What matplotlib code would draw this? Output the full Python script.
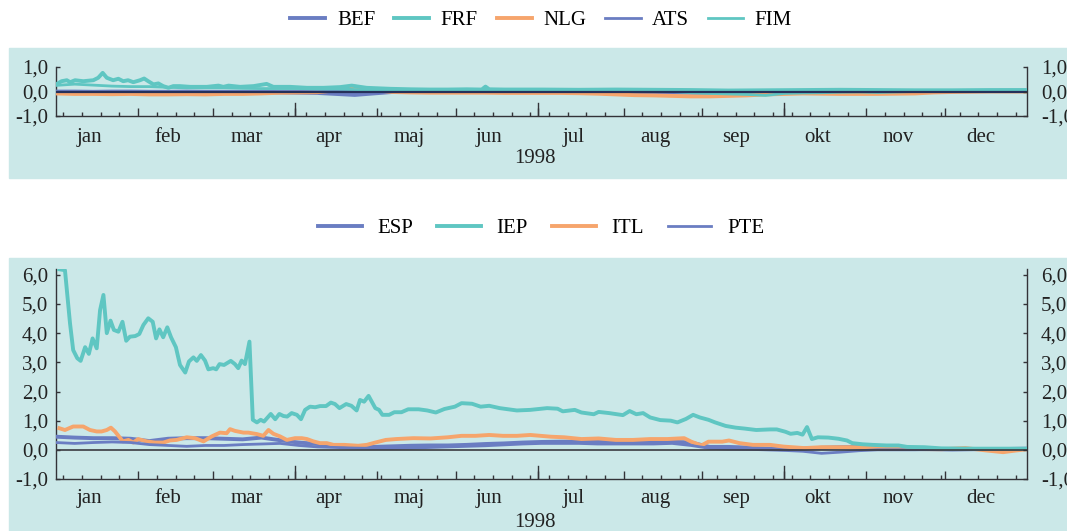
import numpy as np
import matplotlib
matplotlib.use("Agg")
import matplotlib.pyplot as plt
from matplotlib.patches import Rectangle
from matplotlib.ticker import FixedLocator, FuncFormatter

plt.rcParams['font.family'] = ['Liberation Serif', 'DejaVu Serif']
plt.rcParams['font.size'] = 15
plt.rcParams['axes.unicode_minus'] = False

W, H = 1067, 531
BG = '#cbe8e8'
BLUE = '#6a7dc2'
TEAL = '#5fc6c2'
ORANGE = '#f6a56c'
DARK = '#333338'

# handelsdag nr. i 1998 (0 = 1. jan), ugentlige observationer
uke = list(range(0, 261, 5))

maaneder = ['jan', 'feb', 'mar', 'apr', 'maj', 'jun',
            'jul', 'aug', 'sep', 'okt', 'nov', 'dec']

# --- øverste panel ---
frf_x = [0, 1.5, 2.9, 3.8, 5.1, 7.3, 10, 11.3, 12.5, 13.6, 15.3, 16.7, 18, 19.3, 20.7,
         22.5, 23.6, 24.7, 26.1, 27.4, 28.7, 30.1, 31.4, 33.2, 35.9, 40.4, 43.5, 44.8,
         46.2, 49.3, 52.9, 56.4, 58.2, 62.7, 67.2, 71.6, 76.1, 79.2, 81.4, 83.2, 89.5,
         95, 100, 105, 110, 114, 115, 116, 120, 130, 140, 150, 160, 170, 180, 190, 200,
         210, 220, 230, 240, 250, 260]
frf = [0.29, 0.42, 0.46, 0.38, 0.46, 0.42, 0.46, 0.56, 0.76, 0.56, 0.46, 0.52, 0.42, 0.46,
       0.38, 0.46, 0.53, 0.42, 0.29, 0.33, 0.22, 0.15, 0.22, 0.22, 0.19, 0.19, 0.24, 0.19,
       0.24, 0.19, 0.22, 0.31, 0.19, 0.19, 0.15, 0.15, 0.18, 0.24, 0.19, 0.15, 0.11, 0.09,
       0.08, 0.08, 0.09, 0.08, 0.2, 0.09, 0.08, 0.08, 0.07, 0.08, 0.07, 0.06, 0.04, 0.05,
       0.06, 0.07, 0.06, 0.05, 0.05, 0.06, 0.06]
fim = [0.25, 0.30, 0.26, 0.22, 0.20, 0.20, 0.17, 0.15, 0.15, 0.15, 0.13, 0.12, 0.12, 0.12,
       0.10, 0.10, 0.08, 0.06, 0.05, 0.05, 0.05, 0.05, 0.04, 0.05, 0.05, 0.04, 0.05, 0.05,
       0.04, 0.04, 0.04, 0.03, 0.03, 0.00, -0.05, -0.08, -0.10, -0.12, -0.16, -0.08, -0.06,
       -0.05, -0.03, -0.02, -0.04, -0.02, 0.00, 0.02, 0.02, 0.03, 0.04, 0.05, 0.05]
nlg = [-0.08, -0.10, -0.10, -0.11, -0.10, -0.12, -0.12, -0.11, -0.12, -0.10, -0.10, -0.08,
       -0.05, -0.04, -0.03, 0.05, 0.20, 0.06, -0.02, -0.04, -0.05, -0.05, -0.05, -0.05,
       -0.06, -0.06, -0.06, -0.06, -0.07, -0.09, -0.12, -0.15, -0.16, -0.18, -0.20, -0.20,
       -0.18, -0.16, -0.12, -0.10, -0.08, -0.09, -0.10, -0.10, -0.10, -0.09, -0.08, -0.04,
       -0.02, -0.01, 0.00, 0.00, 0.00]
bef = [-0.03, -0.02, -0.03, -0.03, -0.04, -0.04, -0.03, -0.03, -0.02, -0.03, -0.03, -0.04,
       -0.04, -0.05, -0.06, -0.10, -0.14, -0.08, -0.02, -0.01, -0.01, 0.00, 0.00, -0.01,
       0.00, 0.00, 0.01, 0.00, 0.00, -0.01, -0.02, -0.02, -0.03, -0.04, -0.05, -0.06, -0.04,
       -0.03, -0.02, -0.01, 0.00, 0.00, -0.01, 0.00, 0.00, 0.01, 0.01, 0.02, 0.02, 0.02,
       0.02, 0.02, 0.02]
ats = [0.02, 0.02, 0.01, 0.02, 0.02, 0.01, 0.01, 0.02, 0.01, 0.01, 0.01, 0.01, 0.00, 0.00,
       0.00, 0.01, 0.00, 0.00, 0.01, 0.01, 0.01, 0.01, 0.01, 0.01, 0.01, 0.01, 0.01, 0.01,
       0.01, 0.01, 0.01, 0.01, 0.00, 0.00, 0.00, 0.00, 0.00, 0.00, 0.00, 0.00, 0.00, 0.00,
       0.00, 0.00, 0.00, 0.00, 0.01, 0.01, 0.01, 0.01, 0.01, 0.01, 0.01]

# --- nederste panel ---
iep_x = [0.9, 2.4, 3.75, 4.6, 5.7, 6.6, 7.8, 8.8, 9.8, 10.9, 11.8, 12.7, 13.6, 14.6, 15.5,
         16.7, 17.8, 18.8, 19.8, 21.2, 22.3, 23.4, 24.7, 25.9, 26.8, 27.7, 28.7, 29.8, 30.8,
         32.1, 33.2, 34.6, 35.6, 36.8, 37.7, 38.8, 39.9, 40.8, 42.1, 42.9, 43.8, 45, 46.8,
         47.9, 48.8, 49.7, 50.6, 51.8, 52.7, 53.8, 54.8, 55.7, 57.5, 58.7, 59.8, 60.9, 61.9,
         63.1, 64.5, 65.6, 66.7, 68, 69.4, 70.7, 72.3, 73.6, 74.7, 75.9, 77.7, 79.1, 80.5,
         81.4, 82.5, 83.7, 85.5, 86.5, 87.4, 89.2, 90.6, 92.5, 94.3, 97.1, 99.4, 101.7, 104,
         106.8, 108.6, 111.4, 113.7, 116, 118.8, 123.4, 127, 131.5, 134.3, 135.7, 138.9,
         140.7, 144, 145.3, 148.1, 151.8, 153.6, 155.4, 157.2, 159.1, 161.8, 164.6, 166.4,
         168.7, 170.6, 172.4, 174.7, 176.5, 179.3, 182, 184.3, 187.5, 191.2, 193, 195.3,
         196.7, 198.5, 199.9, 201.1, 202.4, 204, 206.8, 209.5, 211.8, 213.2, 216, 218.7,
         222.4, 225.6, 227.9, 232.5, 237.1, 246.2, 260]
iep = [6.19, 6.16, 4.34, 3.42, 3.14, 3.05, 3.52, 3.29, 3.82, 3.48, 4.79, 5.31, 4.0, 4.43,
       4.11, 4.05, 4.39, 3.74, 3.88, 3.9, 3.97, 4.28, 4.51, 4.39, 3.82, 4.13, 3.86, 4.2, 3.86,
       3.52, 2.91, 2.65, 3.03, 3.17, 3.05, 3.25, 3.06, 2.76, 2.8, 2.76, 2.94, 2.91, 3.05,
       2.94, 2.8, 3.06, 2.94, 3.71, 1.03, 0.94, 1.03, 0.97, 1.23, 1.05, 1.23, 1.16, 1.14,
       1.26, 1.2, 1.05, 1.37, 1.48, 1.46, 1.5, 1.5, 1.62, 1.57, 1.43, 1.57, 1.51, 1.35,
       1.71, 1.65, 1.85, 1.43, 1.37, 1.2, 1.2, 1.29, 1.29, 1.39, 1.39, 1.35, 1.28, 1.40,
       1.48, 1.6, 1.58, 1.48, 1.51, 1.43, 1.35, 1.37, 1.43, 1.41, 1.32, 1.37, 1.28, 1.22,
       1.30, 1.26, 1.19, 1.33, 1.22, 1.26, 1.11, 1.02, 1.0, 0.94, 1.06, 1.2, 1.11, 1.03,
       0.94, 0.82, 0.76, 0.73, 0.68, 0.70, 0.70, 0.62, 0.55, 0.58, 0.52, 0.78, 0.37, 0.43,
       0.42, 0.38, 0.32, 0.23, 0.19, 0.17, 0.15, 0.15, 0.1, 0.09, 0.05, 0.04, 0.04]
itl_x = [0.9, 2.4, 4.6, 7.3, 9.1, 10.9, 12.2, 13.6, 14.7, 15.8, 17.9, 19.4, 20.7, 22, 24.3,
         26.5, 28.7, 30.5, 32.3, 35, 37.2, 39.5, 41.7, 43.9, 45.7, 46.6, 47.9, 50.2, 51.5,
         53.8, 55.5, 56.9, 58.2, 60, 61.8, 64, 65.8, 67.2, 68.9, 70.7, 72.5, 74.3, 77.2,
         80.9, 83.2, 85.5, 88.3, 91.1, 95.7, 100.3, 104.9, 108.6, 112.3, 116, 119.7, 123.4,
         127, 132.5, 136.1, 140.7, 145.3, 149.9, 154.5, 159.1, 163.7, 168.2, 170.1, 172.8,
         174.7, 178.4, 180.2, 183, 186.6, 191.2, 194.9, 200.4, 204.9, 209.5, 214, 218.7,
         223.3, 227.9, 237.1, 243.5, 249, 253.6, 257.2, 260]
itl = [0.74, 0.68, 0.80, 0.80, 0.68, 0.63, 0.63, 0.68, 0.76, 0.63, 0.29, 0.34, 0.25, 0.37,
       0.29, 0.25, 0.25, 0.32, 0.34, 0.43, 0.40, 0.29, 0.46, 0.59, 0.57, 0.71, 0.65, 0.59,
       0.59, 0.54, 0.48, 0.68, 0.55, 0.46, 0.34, 0.40, 0.40, 0.37, 0.29, 0.23, 0.23, 0.17,
       0.17, 0.14, 0.17, 0.25, 0.34, 0.37, 0.40, 0.39, 0.43, 0.48, 0.48, 0.51, 0.48, 0.48,
       0.51, 0.45, 0.43, 0.37, 0.39, 0.34, 0.34, 0.37, 0.37, 0.40, 0.28, 0.15, 0.28, 0.28,
       0.32, 0.23, 0.17, 0.17, 0.11, 0.06, 0.09, 0.09, 0.09, 0.07, 0.06, 0.03, 0.02, 0.06,
       -0.02, -0.08, -0.02, 0.02]
esp = [0.45, 0.42, 0.40, 0.40, 0.38, 0.30, 0.38, 0.40, 0.40, 0.38, 0.36, 0.42, 0.33, 0.25,
       0.20, 0.15, 0.12, 0.10, 0.12, 0.14, 0.15, 0.15, 0.17, 0.20, 0.22, 0.25, 0.27, 0.28,
       0.28, 0.27, 0.26, 0.27, 0.27, 0.28, 0.25, 0.10, 0.10, 0.08, 0.04, 0.02, 0.04, 0.07,
       0.09, 0.10, 0.08, 0.05, 0.03, 0.02, 0.01, 0.02, 0.03, 0.03, 0.04]
pte = [0.25, 0.22, 0.25, 0.27, 0.25, 0.18, 0.15, 0.12, 0.15, 0.15, 0.18, 0.20, 0.22, 0.15,
       0.10, 0.08, 0.06, 0.05, 0.05, 0.06, 0.08, 0.10, 0.12, 0.14, 0.17, 0.20, 0.22, 0.22,
       0.22, 0.20, 0.20, 0.20, 0.20, 0.22, 0.15, 0.05, 0.03, 0.02, 0.00, -0.02, -0.05, -0.12,
       -0.08, -0.03, 0.00, 0.00, 0.00, 0.01, 0.02, 0.02, 0.02, 0.03, 0.04]

# akse i handelsdage
mstart = np.busday_count('1998-01-01',
                         np.array(['1998-%02d-01' % m for m in range(1, 13)] + ['1999-01-01'],
                                  dtype='datetime64[D]'))
mandage = np.arange(np.datetime64('1998-01-05'), np.datetime64('1999-01-01'), 7)
uge_pos = np.busday_count('1998-01-01', mandage)
kvartal = mstart[[3, 6, 9]]

fig = plt.figure(figsize=(W / 100, H / 100), dpi=100)
fig.patches.append(Rectangle((9 / W, 1 - 178 / H), (W - 9) / W, 130 / H,
                             transform=fig.transFigure, color=BG, zorder=-10))
fig.patches.append(Rectangle((9 / W, 0), (W - 9) / W, 273 / H,
                             transform=fig.transFigure, color=BG, zorder=-10))

komma = FuncFormatter(lambda v, p: ('%.1f' % v).replace('.', ','))


def opsaet(ax, ylim, yticks, top_px, mdy, aary):
    ax.set_facecolor('none')
    ax.set_xlim(0, 260)
    ax.set_ylim(*ylim)
    ax.spines['top'].set_visible(False)
    for s in ('left', 'right', 'bottom'):
        ax.spines[s].set_color(DARK)
        ax.spines[s].set_linewidth(1.0)
    ax.xaxis.set_major_locator(FixedLocator(mstart[1:12]))
    ax.xaxis.set_minor_locator(FixedLocator(uge_pos))
    ax.tick_params(axis='x', which='major', direction='in', length=6, width=1.0,
                   color=DARK, labelbottom=False)
    ax.tick_params(axis='x', which='minor', direction='in', length=3, width=1.0,
                   color=DARK)
    for q in kvartal:
        ax.axvline(q, ymin=0, ymax=13 / top_px, color=DARK, lw=1.0)
    ax.set_yticks(yticks)
    ax.yaxis.set_major_formatter(komma)
    ax.tick_params(axis='y', direction='in', length=3, width=1.0, color=DARK,
                   pad=5.5, labelcolor='#222222')
    ax2 = ax.twinx()
    ax2.set_facecolor('none')
    ax2.set_ylim(*ylim)
    ax2.set_yticks(yticks)
    ax2.yaxis.set_major_formatter(komma)
    ax2.tick_params(axis='y', direction='in', length=3, width=1.0, color=DARK,
                    pad=10, labelcolor='#222222')
    for s in ax2.spines.values():
        s.set_visible(False)
    trans = ax.get_xaxis_transform()
    for i, navn in enumerate(maaneder):
        xc = (mstart[i] + mstart[i + 1]) / 2 - 2
        ax.annotate(navn, (xc, 0), xycoords=trans, xytext=(0, mdy),
                    textcoords='offset points', ha='center', va='center',
                    color='#222222', annotation_clip=False)
    ax.annotate('1998', (0.493, 0), xycoords='axes fraction', xytext=(0, aary),
                textcoords='offset points', ha='center', va='center', color='#222222')


# øverste
ax1 = fig.add_axes([56 / W, 1 - 116 / H, 971 / W, 49 / H])
opsaet(ax1, (-1, 1), [-1, 0, 1], 49, -15.5, -30.5)
ax1.axhline(0, color='#26305a', lw=1.6, zorder=5)
h_bef, = ax1.plot(uke, bef, color=BLUE, lw=2.8, zorder=3)
h_frf, = ax1.plot(frf_x, frf, color=TEAL, lw=2.8, zorder=4)
h_nlg, = ax1.plot(uke, nlg, color=ORANGE, lw=2.8, zorder=3)
h_ats, = ax1.plot(uke, ats, color=BLUE, lw=2.0, zorder=3)
h_fim, = ax1.plot(uke, fim, color=TEAL, lw=2.0, zorder=4)
fig.legend([h_bef, h_frf, h_nlg, h_ats, h_fim], ['BEF', 'FRF', 'NLG', 'ATS', 'FIM'],
           loc='center', bbox_to_anchor=(541 / W, 1 - 20 / H), ncol=5, frameon=False,
           handlelength=1.7, handletextpad=0.55, columnspacing=0.9)

# nederste
ax3 = fig.add_axes([56 / W, 1 - 479 / H, 971 / W, 210 / H])
opsaet(ax3, (-1, 6.2), [-1, 0, 1, 2, 3, 4, 5, 6], 210, -14, -31)
ax3.axhline(0, color='#3a3a40', lw=1.2, zorder=5)
h_esp, = ax3.plot(uke, esp, color=BLUE, lw=2.8, zorder=3)
h_iep, = ax3.plot(iep_x, iep, color=TEAL, lw=2.8, zorder=4)
h_itl, = ax3.plot(itl_x, itl, color=ORANGE, lw=2.8, zorder=3)
h_pte, = ax3.plot(uke, pte, color=BLUE, lw=2.0, zorder=3)
fig.legend([h_esp, h_iep, h_itl, h_pte], ['ESP', 'IEP', 'ITL', 'PTE'],
           loc='center', bbox_to_anchor=(541 / W, 1 - 228 / H), ncol=4, frameon=False,
           handlelength=2.1, handletextpad=0.75, columnspacing=1.15)

fig.savefig('out.png', dpi=100)
